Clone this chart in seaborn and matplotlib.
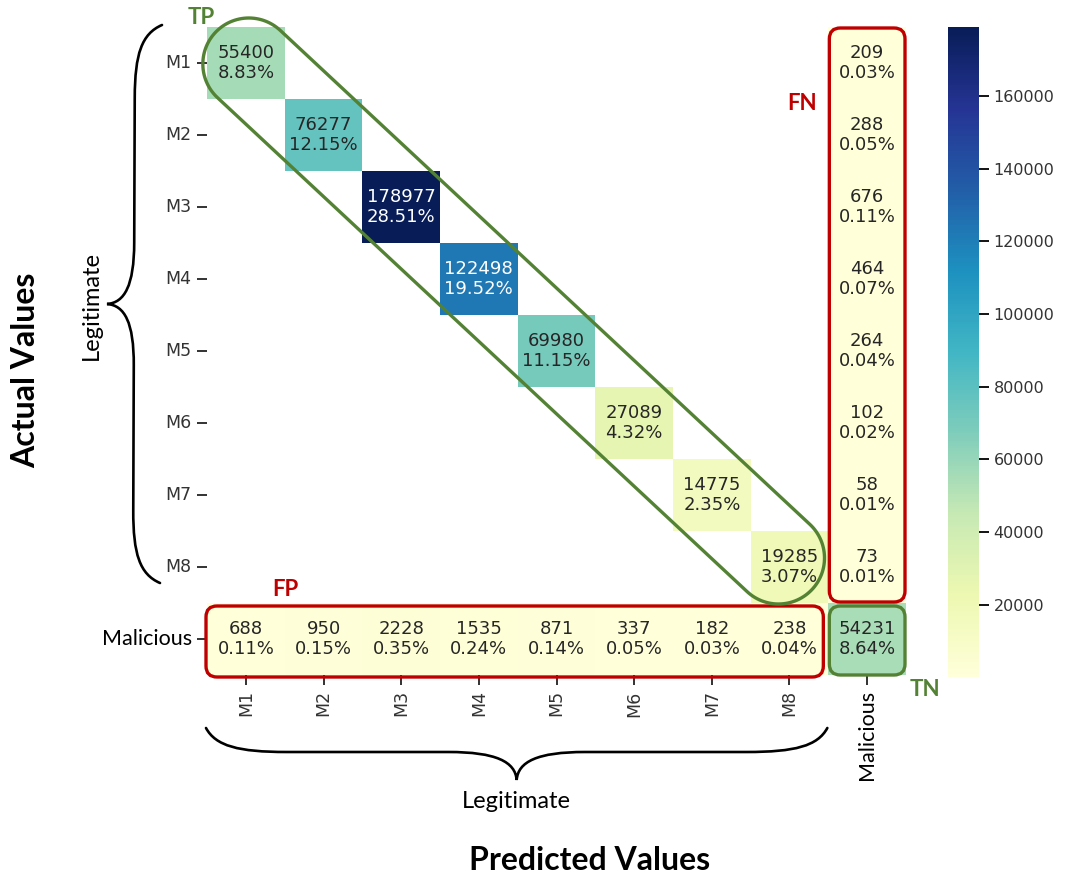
import numpy as np
import pandas as pd
import matplotlib
matplotlib.use("Agg")
import matplotlib.pyplot as plt
import seaborn as sns
from matplotlib.path import Path
from matplotlib.patches import PathPatch, FancyBboxPatch
from matplotlib.transforms import IdentityTransform

# ---------------- data ----------------
classes = ["M1", "M2", "M3", "M4", "M5", "M6", "M7", "M8", "Malicious"]
tp_counts = [55400, 76277, 178977, 122498, 69980, 27089, 14775, 19285]   # diagonal
fn_counts = [209, 288, 676, 464, 264, 102, 58, 73]                        # legit predicted malicious
fp_counts = [688, 950, 2228, 1535, 871, 337, 182, 238]                    # malicious predicted legit
tn_count = 54231

n = len(classes)
cm = np.zeros((n, n), dtype=int)
for i, v in enumerate(tp_counts):
    cm[i, i] = v
for i, v in enumerate(fn_counts):
    cm[i, n - 1] = v
for j, v in enumerate(fp_counts):
    cm[n - 1, j] = v
cm[n - 1, n - 1] = tn_count
total = cm.sum()
labels = np.array([[f"{v}\n{v / total:.2%}" if v > 0 else "" for v in row] for row in cm])
df = pd.DataFrame(cm, index=classes, columns=classes)

# ---------------- figure ----------------
W, H = 1068, 881
fig = plt.figure(figsize=(W / 100, H / 100), dpi=100)
fig.patch.set_facecolor("white")
ax = fig.add_axes([207 / W, 1 - 675 / H, 699 / W, 648 / H])
cax = fig.add_axes([948 / W, 1 - 677 / H, 31 / W, 650 / H])

sns.heatmap(df, mask=(cm == 0), cmap="YlGnBu", annot=labels, fmt="",
            annot_kws={"fontsize": 13}, cbar_ax=cax, ax=ax)

ax.set_xlabel("")
ax.set_ylabel("")
ax.tick_params(axis="both", length=7, width=1.3, color="#222222",
               labelsize=12.5, labelcolor="#333333", pad=4)
plt.setp(ax.get_xticklabels(), rotation=90)
plt.setp(ax.get_yticklabels(), rotation=0)
for lab in [ax.get_xticklabels()[-1], ax.get_yticklabels()[-1]]:
    lab.set_fontfamily("Lato")
    lab.set_fontsize(15.5)
    lab.set_color("black")

cax.tick_params(labelsize=11.5, length=7, width=1.3, labelcolor="#333333")

GREEN = "#548235"
RED = "#C00000"

fig.canvas.draw()
T = ax.transData


def disp(c, r):
    return np.array(T.transform((c, r)))


def rbox(c0, r0, c1, r1, color, ins=(2, 2, 2, 2), rad=11):
    # ins = (left, right, top, bottom) in pixels
    x0, y0 = disp(c0, r1)
    x1, y1 = disp(c1, r0)
    x0 += ins[0]; x1 -= ins[1]; y1 -= ins[2]; y0 += ins[3]
    p = FancyBboxPatch((x0, y0), x1 - x0, y1 - y0,
                       boxstyle=f"round,pad=0,rounding_size={rad}",
                       fc="none", ec=color, lw=2.4, transform=IdentityTransform())
    fig.add_artist(p)


# FN column, FP row, TN cell
rbox(n - 1, 0, n, n - 1, RED, ins=(1, 1, 1, 1))
rbox(0, n - 1, n - 1, n, RED, ins=(-1, 5, 3, -2))
rbox(n - 1, n - 1, n, n, GREEN, ins=(1, 1, 3, 0))

# TP capsule along the diagonal
A = disp(0.5, 0.5) + np.array([3, -1])
B = disp(n - 1.5, n - 1.5) + np.array([-11, 9])
r = 46
d = B - A
th = np.arctan2(d[1], d[0])
a1 = np.linspace(th - np.pi / 2, th + np.pi / 2, 60)
a2 = np.linspace(th + np.pi / 2, th + 3 * np.pi / 2, 60)
pts = np.vstack([B + r * np.c_[np.cos(a1), np.sin(a1)],
                 A + r * np.c_[np.cos(a2), np.sin(a2)]])
pts = np.vstack([pts, pts[:1]])
fig.add_artist(PathPatch(Path(pts, closed=True), fc="none", ec=GREEN, lw=2.4,
                         transform=IdentityTransform()))


def brace(S, E, tipdir, h, dtip, lw=1.9):
    S = np.asarray(S, float); E = np.asarray(E, float)
    L = np.linalg.norm(E - S)
    u = (E - S) / L
    nv = np.asarray(tipdir, float)
    m = L / 2
    a = 0.13 * L
    b = 0.11 * L
    loc = [
        (0, 0), (0.12 * a, 0.75 * h), (0.4 * a, h), (a, h),
        (m - b, h),
        (m - 0.3 * b, h), (m - 0.02 * b, h + 0.35 * (dtip - h)), (m, dtip),
        (m + 0.02 * b, h + 0.35 * (dtip - h)), (m + 0.3 * b, h), (m + b, h),
        (L - a, h),
        (L - 0.4 * a, h), (L - 0.12 * a, 0.75 * h), (L, 0),
    ]
    codes = [Path.MOVETO, Path.CURVE4, Path.CURVE4, Path.CURVE4,
             Path.LINETO,
             Path.CURVE4, Path.CURVE4, Path.CURVE4,
             Path.CURVE4, Path.CURVE4, Path.CURVE4,
             Path.LINETO,
             Path.CURVE4, Path.CURVE4, Path.CURVE4]
    verts = [S + s * u + t * nv for s, t in loc]
    fig.add_artist(PathPatch(Path(verts, codes), fc="none", ec="black", lw=lw,
                             capstyle="round", transform=IdentityTransform()))


# left brace (rows M1..M8)
top_left = disp(0, 0)
bot_left = disp(0, n - 1)
brace(top_left + np.array([-45, 2]), bot_left + np.array([-47, 20]), (-1, 0), 27, 54)
# bottom brace (cols M1..M8)
bl = disp(0, n)
br = disp(n - 1, n)
brace(bl + np.array([-1, -53]), br + np.array([-1, -53]), (0, -1), 24, 52)


def ftext(x, y, s, **kw):
    fig.text(x / W, 1 - y / H, s, ha="center", va="center", **kw)


ftext(201, 18, "TP", fontsize=16, fontweight="bold", color=GREEN, family="Lato")
ftext(802, 103, "FN", fontsize=16, fontweight="bold", color=RED, family="Lato")
ftext(285, 590, "FP", fontsize=16, fontweight="bold", color=RED, family="Lato")
ftext(925, 689, "TN", fontsize=16, fontweight="bold", color=GREEN, family="Lato")
ftext(91, 306, "Legitimate", fontsize=17, rotation=90, family="Lato")
ftext(516, 801, "Legitimate", fontsize=17, family="Lato")
ftext(26, 370, "Actual Values", fontsize=23, fontweight="bold", rotation=90, family="Lato")
ftext(590, 861, "Predicted Values", fontsize=23, fontweight="bold", family="Lato")

fig.savefig("out.png", dpi=100)
